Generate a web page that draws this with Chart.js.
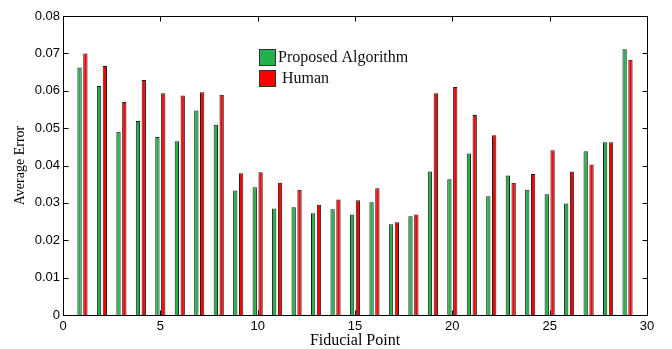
<!DOCTYPE html>
<html>
<head>
<meta charset="utf-8">
<script src="https://cdn.jsdelivr.net/npm/chart.js@4.4.1/dist/chart.umd.min.js"></script>
<style>
  html, body { margin: 0; padding: 0; background: #fff; }
  #wrap { width: 672px; height: 349px; }
</style>
</head>
<body>
<div id="wrap"><canvas id="c" width="672" height="349"></canvas></div>
<script>
const fiducialPoints = [1,2,3,4,5,6,7,8,9,10,11,12,13,14,15,16,17,18,19,20,21,22,23,24,25,26,27,28,29];
const proposedAlgorithm = [0.0662,0.0613,0.0490,0.0519,0.0476,0.0465,0.0547,0.0509,0.0333,0.0342,
  0.0285,0.0288,0.0272,0.0283,0.0269,0.0302,0.0243,0.0264,0.0384,0.0363,
  0.0432,0.0318,0.0373,0.0335,0.0323,0.0298,0.0438,0.0462,0.0711];
const human = [0.0700,0.0666,0.0570,0.0629,0.0593,0.0587,0.0596,0.0589,0.0379,0.0382,
  0.0354,0.0335,0.0295,0.0309,0.0307,0.0339,0.0248,0.0269,0.0593,0.0610,
  0.0535,0.0481,0.0354,0.0377,0.0441,0.0384,0.0403,0.0462,0.0683];
const seriesNames = ['Proposed Algorithm', 'Human'];
const xTickValues = [0,5,10,15,20,25,30];
const yTickValues = [0,0.01,0.02,0.03,0.04,0.05,0.06,0.07,0.08];

const GREEN = '#22b14c';
const RED = '#ff0000';

const framePlugin = {
  id: 'frame',
  afterDraw(chart) {
    const {ctx, chartArea: a, scales: {x, y}} = chart;
    ctx.save();
    ctx.strokeStyle = '#000';
    ctx.lineWidth = 1;
    ctx.beginPath();
    const L = Math.round(a.left) + 0.5, R = Math.round(a.right) + 0.5;
    const T = Math.round(a.top) + 0.5, B = Math.round(a.bottom) + 0.5;
    ctx.rect(L, T, R - L, B - T);
    const tl = 5;
    xTickValues.forEach(v => {
      const px = Math.round(x.getPixelForValue(v)) + 0.5;
      ctx.moveTo(px, B); ctx.lineTo(px, B - tl);
      ctx.moveTo(px, T); ctx.lineTo(px, T + tl);
    });
    yTickValues.forEach(v => {
      const py = Math.round(y.getPixelForValue(v)) + 0.5;
      ctx.moveTo(L, py); ctx.lineTo(L + tl, py);
      ctx.moveTo(R, py); ctx.lineTo(R - tl, py);
    });
    ctx.stroke();

    // legend inside plot
    const lx = 259, ly = 49, box = 16, gap = 21;
    const colors = [GREEN, RED];
    ctx.font = '16px "Liberation Serif", "Times New Roman", serif';
    ctx.textBaseline = 'middle';
    seriesNames.forEach((name, i) => {
      const by = ly + i * gap;
      ctx.fillStyle = colors[i];
      ctx.fillRect(lx, by, box, box);
      ctx.strokeStyle = '#333';
      ctx.strokeRect(lx + 0.5, by + 0.5, box, box);
      ctx.fillStyle = '#111';
      ctx.fillText(name, i === 0 ? lx + 19 : lx + 23, by + box / 2 + 1);
    });
    ctx.restore();
  }
};

const ds = (label, vals, color) => ({
  label,
  data: fiducialPoints.map((p, i) => ({x: p, y: vals[i]})),
  backgroundColor: color,
  borderColor: '#1a1a1a',
  borderWidth: 1,
  categoryPercentage: 0.6,
  barPercentage: 0.74
});

new Chart(document.getElementById('c'), {
  type: 'bar',
  data: {
    datasets: [
      ds(seriesNames[0], proposedAlgorithm, GREEN),
      ds(seriesNames[1], human, RED)
    ]
  },
  options: {
    responsive: false,
    animation: false,
    maintainAspectRatio: false,
    devicePixelRatio: 1,
    layout: { padding: { left: 0, right: 25, top: 16, bottom: 0 } },
    plugins: { legend: { display: false }, tooltip: { enabled: false } },
    scales: {
      x: {
        type: 'linear',
        min: 0, max: 30,
        offset: false,
        grid: { display: false, offset: false, drawTicks: false },
        border: { display: false },
        afterBuildTicks(s) { s.ticks = xTickValues.map(v => ({value: v})); },
        afterFit(s) { s.height = 34; },
        ticks: {
          color: '#000',
          padding: 4,
          maxRotation: 0,
          autoSkip: false,
          font: { family: '"Liberation Sans", Arial, sans-serif', size: 13 }
        },
        title: {
          display: true, text: 'Fiducial Point', color: '#000',
          padding: { top: 0, bottom: 0 },
          font: { family: '"Liberation Serif", "Times New Roman", serif', size: 16, lineHeight: 1.0 }
        }
      },
      y: {
        min: 0, max: 0.08,
        grid: { display: false, drawTicks: false },
        border: { display: false },
        afterBuildTicks(s) { s.ticks = yTickValues.map(v => ({value: v})); },
        afterFit(s) { s.width = 63; },
        ticks: {
          color: '#000',
          padding: 3,
          autoSkip: false,
          font: { family: '"Liberation Sans", Arial, sans-serif', size: 13 },
          callback: v => (v === 0 ? '0' : v.toFixed(2))
        },
        title: {
          display: true, text: 'Average Error', color: '#000',
          padding: { top: 12, bottom: 0 },
          font: { family: '"Liberation Serif", "Times New Roman", serif', size: 14, lineHeight: 1.2 }
        }
      }
    }
  },
  plugins: [framePlugin]
});
</script>
</body>
</html>
